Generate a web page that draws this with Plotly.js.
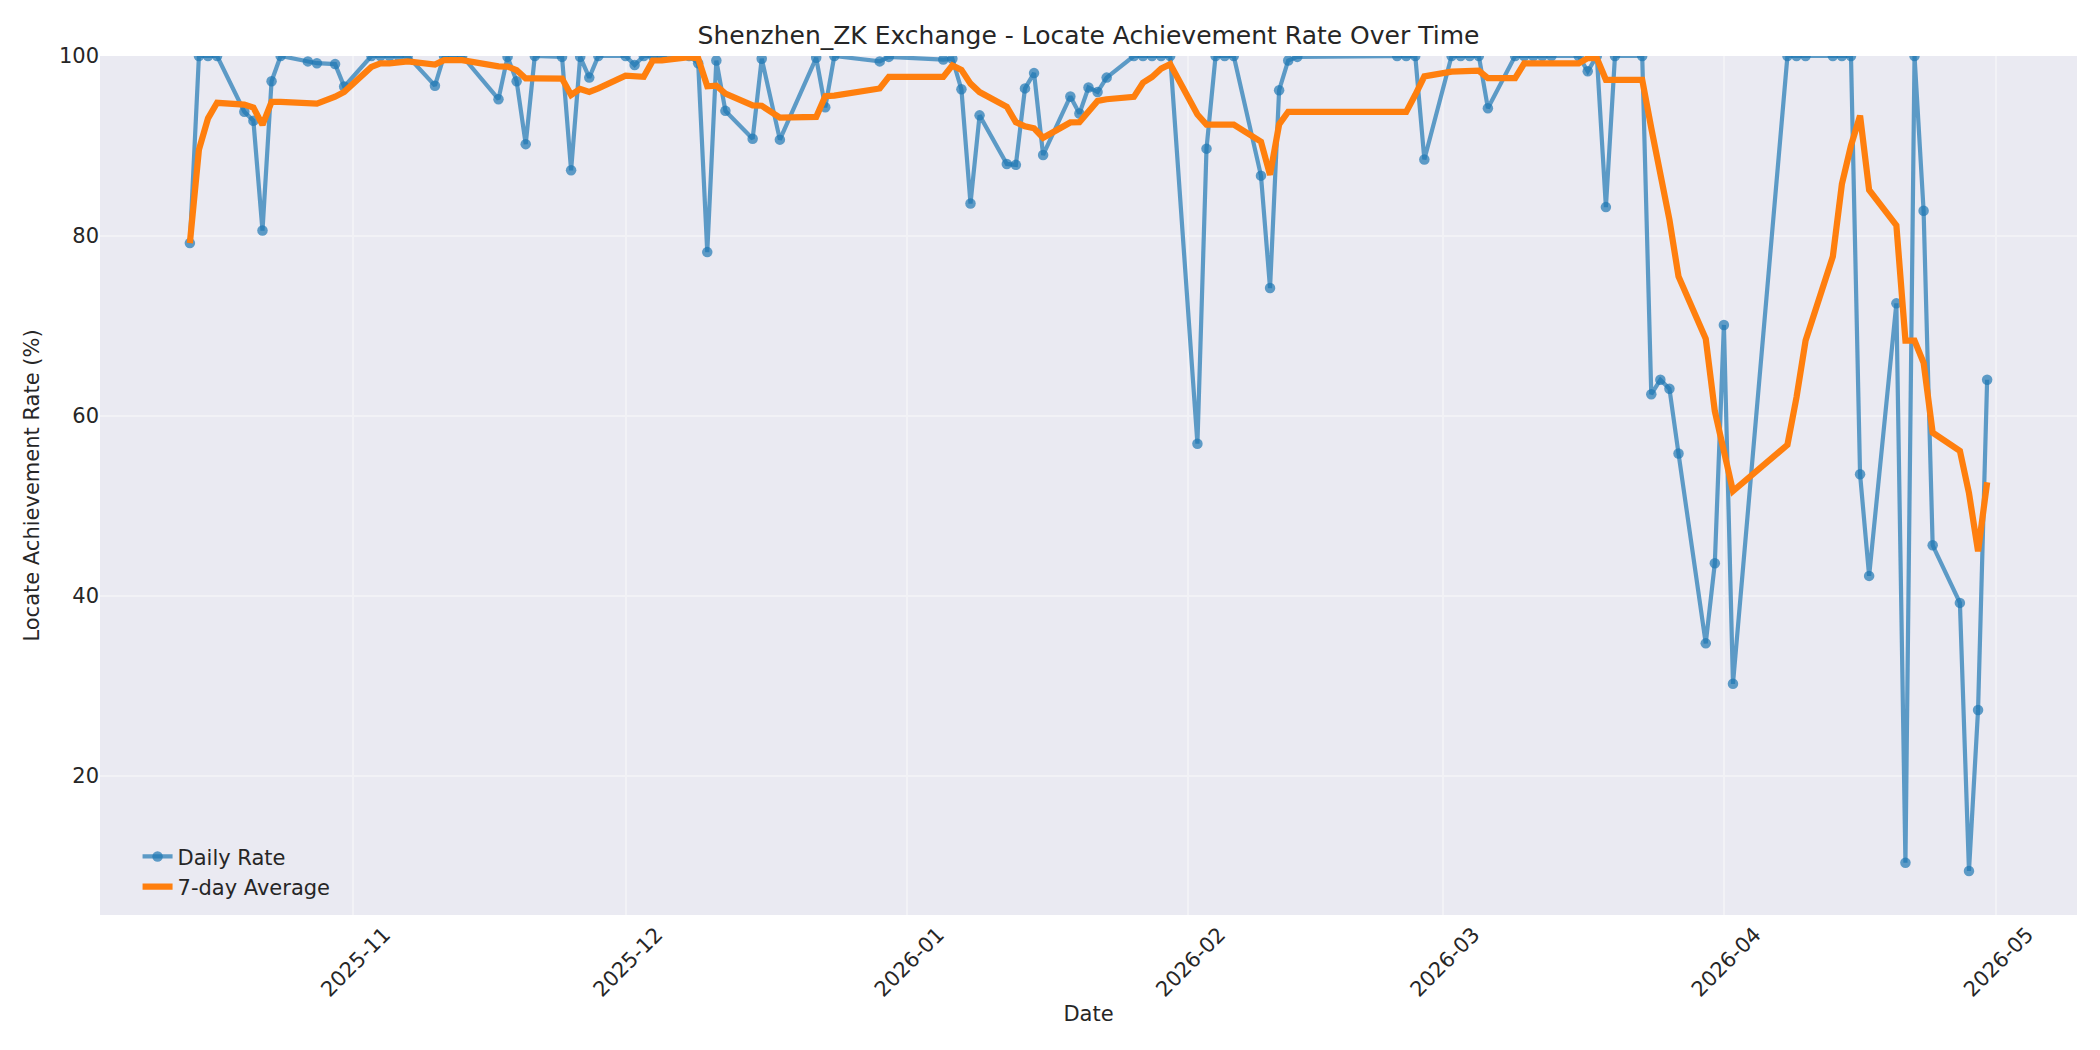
<!DOCTYPE html>
<html>
<head>
<meta charset="utf-8">
<script src="https://cdn.plot.ly/plotly-3.0.1.min.js"></script>
<style>
    html, body { margin: 0; padding: 0; background: #ffffff; }
    #chart { width: 2100px; height: 1050px; }
</style>
</head>
<body>
<div id="chart"></div>
<script>
// --- Дані ---

const tradeDates = [
    '2025-10-14', '2025-10-15', '2025-10-16', '2025-10-17', '2025-10-20', '2025-10-21', '2025-10-22',
    '2025-10-23', '2025-10-24', '2025-10-27', '2025-10-28', '2025-10-30', '2025-10-31',
    '2025-11-03', '2025-11-04', '2025-11-05', '2025-11-06', '2025-11-07', '2025-11-10', '2025-11-11',
    '2025-11-12', '2025-11-13', '2025-11-17', '2025-11-18', '2025-11-19', '2025-11-20', '2025-11-21',
    '2025-11-24', '2025-11-25', '2025-11-26', '2025-11-27', '2025-11-28',
    '2025-12-01', '2025-12-02', '2025-12-03', '2025-12-04', '2025-12-05', '2025-12-08', '2025-12-09',
    '2025-12-10', '2025-12-11', '2025-12-12', '2025-12-15', '2025-12-16', '2025-12-18', '2025-12-22',
    '2025-12-23', '2025-12-24', '2025-12-29', '2025-12-30',
    '2026-01-05', '2026-01-06', '2026-01-07', '2026-01-08', '2026-01-09', '2026-01-12', '2026-01-13',
    '2026-01-14', '2026-01-15', '2026-01-16', '2026-01-19', '2026-01-20', '2026-01-21', '2026-01-22',
    '2026-01-23', '2026-01-26', '2026-01-27', '2026-01-28', '2026-01-29', '2026-01-30',
    '2026-02-02', '2026-02-03', '2026-02-04', '2026-02-05', '2026-02-06', '2026-02-09', '2026-02-10',
    '2026-02-11', '2026-02-12', '2026-02-13', '2026-02-24', '2026-02-25', '2026-02-26', '2026-02-27',
    '2026-03-02', '2026-03-03', '2026-03-04', '2026-03-05', '2026-03-06', '2026-03-09', '2026-03-10',
    '2026-03-11', '2026-03-12', '2026-03-13', '2026-03-16', '2026-03-17', '2026-03-18', '2026-03-19',
    '2026-03-20', '2026-03-23', '2026-03-24', '2026-03-25', '2026-03-26', '2026-03-27', '2026-03-30',
    '2026-03-31',
    '2026-04-01', '2026-04-02', '2026-04-08', '2026-04-09', '2026-04-10', '2026-04-13', '2026-04-14',
    '2026-04-15', '2026-04-16', '2026-04-17', '2026-04-20', '2026-04-21', '2026-04-22', '2026-04-23',
    '2026-04-24', '2026-04-27', '2026-04-28', '2026-04-29', '2026-04-30'
];

// Денний показник, %
const dailyRate = [
    79.2, 100, 100, 100, 93.8, 92.8, 80.6, 97.2, 100, 99.4, 99.2, 99.1, 96.6,
    100, 100, 100, 100, 100, 96.7, 100, 100, 100, 95.2, 99.9, 97.2, 90.2, 100, 99.9, 87.3, 99.9, 97.6, 100,
    100, 99.0, 100, 100, 100, 100, 99.2, 78.2, 99.5, 93.9, 90.8, 99.7, 90.7, 99.8, 94.3, 100, 99.4, 99.9,
    99.6, 99.7, 96.3, 83.6, 93.4, 88.0, 87.9, 96.4, 98.1, 89.0, 95.5, 93.6, 96.5, 96.0, 97.6, 100, 100, 100, 100, 100,
    56.9, 89.7, 100, 100, 100, 86.7, 74.2, 96.2, 99.5, 99.9, 100, 100, 100, 88.5,
    100, 100, 100, 100, 94.2, 100, 100, 100, 100, 100, 100, 98.3, 100, 83.2, 100, 100, 62.4, 64.0, 63.0, 55.8, 34.7, 43.6,
    70.1, 30.2, 100, 100, 100, 100, 100, 100, 53.5, 42.2, 72.5, 10.3, 100, 82.8, 45.6, 39.2, 9.4, 27.3, 64.0
];

// Середнє за 7 днів, %
const weeklyAvg = [
    79.2, 89.6, 93.07, 94.8, 94.6, 94.27, 92.34, 94.91, 94.91, 94.83, 94.71, 95.47, 96.01,
    98.79, 99.19, 99.19, 99.27, 99.39, 99.04, 99.53, 99.53, 99.53, 98.84, 98.83, 98.43, 97.5, 97.5, 97.49, 95.67, 96.34, 96.01, 96.41,
    97.81, 97.67, 97.69, 99.5, 99.51, 99.86, 99.74, 96.63, 96.7, 95.83, 94.51, 94.47, 93.14, 93.23, 95.53, 95.6, 96.39, 97.69,
    97.67, 98.96, 98.46, 96.93, 95.99, 94.36, 92.64, 92.19, 91.96, 90.91, 92.61, 92.64, 93.86, 95.01, 95.19, 95.46, 97.03, 97.67, 98.59, 99.09,
    93.5, 92.37, 92.37, 92.37, 92.37, 90.47, 86.79, 92.4, 93.8, 93.79, 93.79, 93.79, 95.69, 97.73,
    98.27, 98.34, 98.36, 98.36, 97.53, 97.53, 99.17, 99.17, 99.17, 99.17, 99.17, 99.76, 99.76, 97.36, 97.36, 97.36, 91.99, 86.84, 81.8, 75.49, 68.56, 60.5,
    56.23, 51.63, 56.77, 62.06, 68.37, 77.7, 85.76, 90.03, 93.36, 85.1, 81.17, 68.36, 68.36, 65.9, 58.13, 56.09, 51.4, 44.94, 52.61
];

const yTicks = [20, 40, 60, 80, 100];
const chartTitle = 'Shenzhen_ZK Exchange - Locate Achievement Rate Over Time';

// --- Побудова графіка ---

function drawChart() {
    const textColor = '#262626';
    const gridColor = '#f2f2f6';

    const data = [
        {
            x: tradeDates, y: dailyRate, type: 'scatter', mode: 'lines+markers',
            name: 'Daily Rate',
            line: { color: 'rgba(31,119,180,0.7)', width: 4.2 },
            marker: { color: 'rgba(31,119,180,0.7)', size: 10.5 }
        },
        {
            x: tradeDates, y: weeklyAvg, type: 'scatter', mode: 'lines',
            name: '7-day Average',
            line: { color: '#ff7f0e', width: 6.25 }
        }
    ];

    const layout = {
        width: 2100, height: 1050,
        margin: { l: 100, r: 23, t: 56, b: 135 },
        paper_bgcolor: '#ffffff',
        plot_bgcolor: '#eaeaf2',
        font: { family: 'DejaVu Sans', size: 21, color: textColor },
        title: {
            text: chartTitle,
            font: { size: 25, color: textColor },
            x: 0.5, xref: 'paper', xanchor: 'center',
            y: 1 - 35 / 1050, yref: 'container', yanchor: 'middle'
        },
        xaxis: {
            type: 'date',
            range: ['2025-10-04 02:24', '2026-05-09 21:36'],
            tick0: '2025-11-01', dtick: 'M1', tickformat: '%Y-%m',
            tickangle: -45, ticklabelshift: 31, ticklabelstandoff: 2,
            showgrid: true, gridcolor: gridColor, gridwidth: 2,
            zeroline: false, showline: false, ticks: '',
            title: { text: 'Date', font: { size: 21 }, standoff: 5 }
        },
        yaxis: {
            range: [4.5, 100],
            tickvals: yTicks,
            showgrid: true, gridcolor: gridColor, gridwidth: 2,
            zeroline: false, showline: false, ticks: '',
            title: { text: 'Locate Achievement Rate (%)', font: { size: 21 }, standoff: 13 }
        },
        showlegend: true,
        legend: {
            x: 0.019, y: 0.009, xanchor: 'left', yanchor: 'bottom',
            bgcolor: 'rgba(0,0,0,0)', borderwidth: 0,
            font: { size: 21, color: textColor }
        },
        hovermode: false
    };

    Plotly.newPlot('chart', data, layout, { displayModeBar: false, staticPlot: true });
}

document.addEventListener('DOMContentLoaded', drawChart);
</script>
</body>
</html>
